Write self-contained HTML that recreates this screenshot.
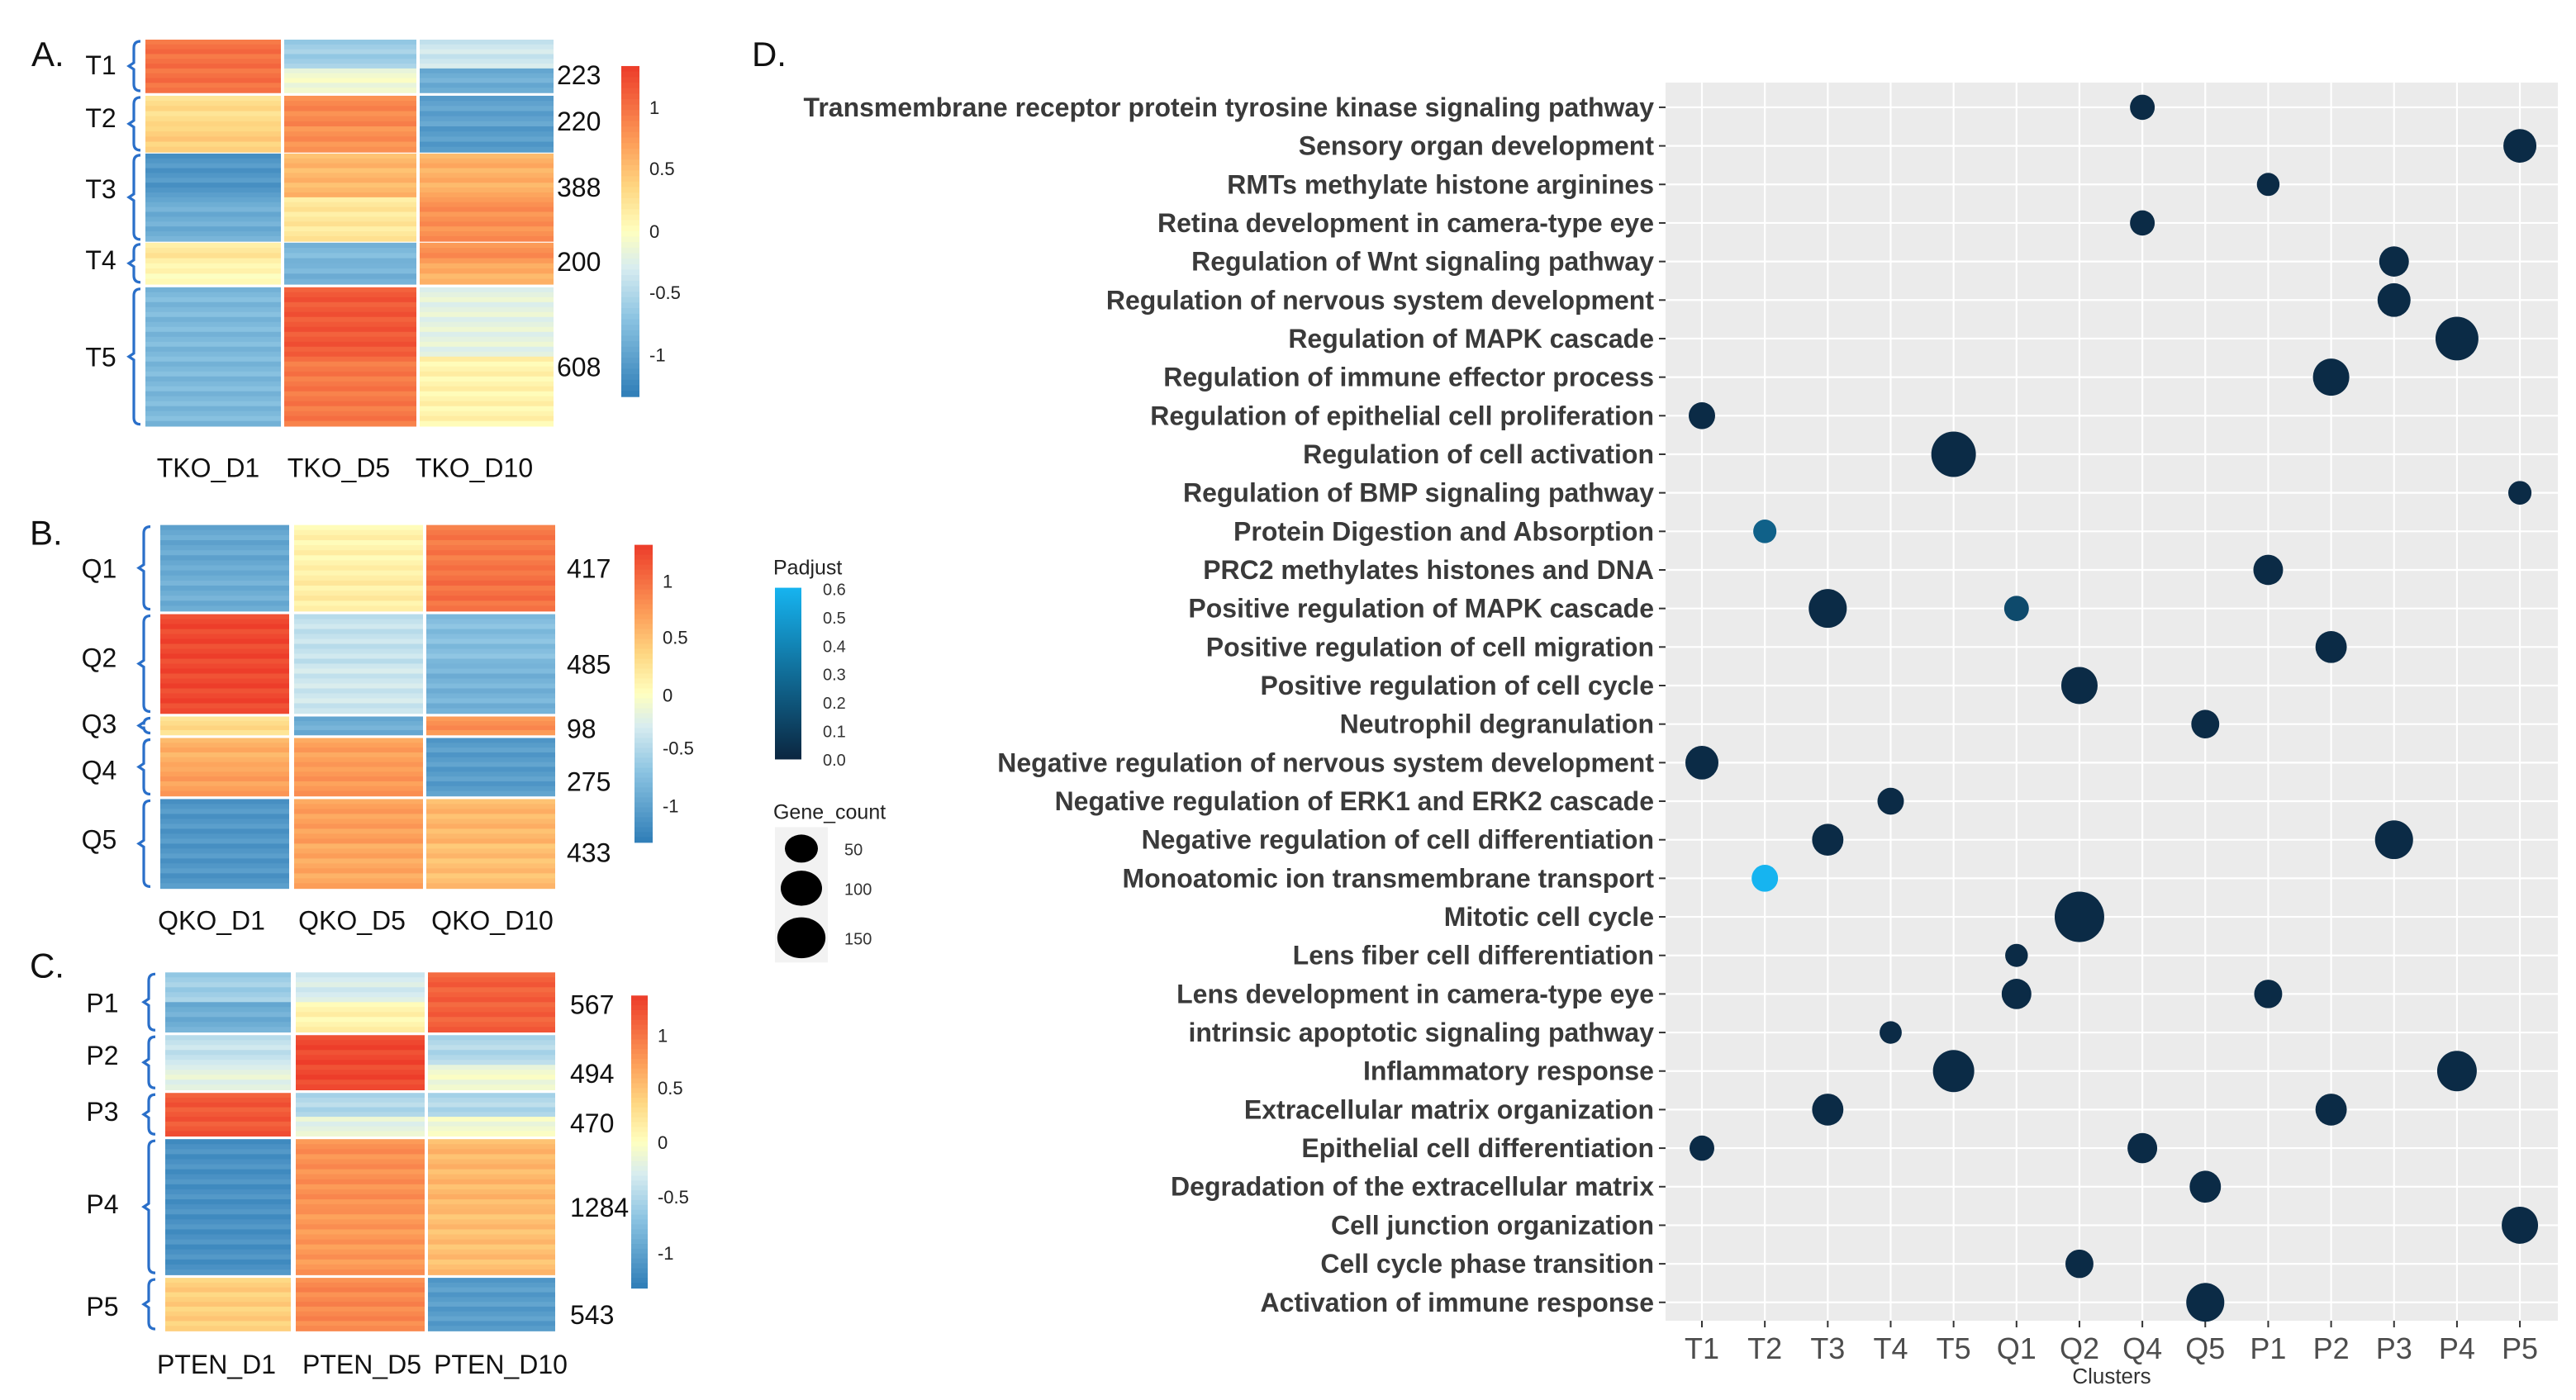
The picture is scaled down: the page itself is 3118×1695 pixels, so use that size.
<!DOCTYPE html>
<html><head><meta charset="utf-8"><style>
html,body{margin:0;padding:0;background:#fff}
svg{display:block}
text{font-family:"Liberation Sans",sans-serif}
</style></head><body>
<svg id="fig" width="3118" height="1695" viewBox="0 0 1559 848" preserveAspectRatio="none" xmlns="http://www.w3.org/2000/svg">
<g id="heatmaps"></g>
<g id="legend"></g>
<g id="dot"></g>
</svg>
<script>
// ---------- Heatmap data ----------
const tkoClusters=["T1","T2","T3","T4","T5"];
const tkoCounts=["223","220","388","200","608"];
const tkoSamples=["TKO_D1","TKO_D5","TKO_D10"];
const tkoValues=[[[1.0,1.0],[-0.6,-0.1],[-0.35,-0.9]],[[0.3,0.4],[0.85,0.8],[-1.0,-1.05]],[[-1.1,-0.9],[0.55,0.2],[0.6,0.8]],[[0.2,0.05],[-0.8,-0.85],[0.8,0.6]],[[-0.8,-0.8],[1.15,0.95],[-0.2,0.1]]];
const qkoClusters=["Q1","Q2","Q3","Q4","Q5"];
const qkoCounts=["417","485","98","275","433"];
const qkoSamples=["QKO_D1","QKO_D5","QKO_D10"];
const qkoValues=[[[-0.95,-0.9],[0.1,0.15],[0.95,1.0]],[[1.25,1.25],[-0.4,-0.35],[-0.75,-0.85]],[[0.3,0.3],[-0.9,-0.9],[0.8,0.8]],[[0.6,0.7],[0.7,0.75],[-1.05,-1.05]],[[-1.1,-1.1],[0.7,0.65],[0.55,0.5]]];
const ptenClusters=["P1","P2","P3","P4","P5"];
const ptenCounts=["567","494","470","1284","543"];
const ptenSamples=["PTEN_D1","PTEN_D5","PTEN_D10"];
const ptenValues=[[[-0.6,-0.9],[-0.3,0.1],[1.1,1.1]],[[-0.4,-0.2],[1.25,1.25],[-0.5,-0.1]],[[1.15,1.15],[-0.5,-0.2],[-0.5,-0.1]],[[-1.15,-1.15],[0.8,0.75],[0.55,0.5]],[[0.4,0.4],[0.85,0.85],[-1.05,-1.05]]];
const colorTicks=["1","0.5","0","-0.5","-1"];

// ---------- Dot plot data ----------
const terms=["Transmembrane receptor protein tyrosine kinase signaling pathway","Sensory organ development","RMTs methylate histone arginines","Retina development in camera-type eye","Regulation of Wnt signaling pathway","Regulation of nervous system development","Regulation of MAPK cascade","Regulation of immune effector process","Regulation of epithelial cell proliferation","Regulation of cell activation","Regulation of BMP signaling pathway","Protein Digestion and Absorption","PRC2 methylates histones and DNA","Positive regulation of MAPK cascade","Positive regulation of cell migration","Positive regulation of cell cycle","Neutrophil degranulation","Negative regulation of nervous system development","Negative regulation of ERK1 and ERK2 cascade","Negative regulation of cell differentiation","Monoatomic ion transmembrane transport","Mitotic cell cycle","Lens fiber cell differentiation","Lens development in camera-type eye","intrinsic apoptotic signaling pathway","Inflammatory response","Extracellular matrix organization","Epithelial cell differentiation","Degradation of the extracellular matrix","Cell junction organization","Cell cycle phase transition","Activation of immune response"];
const clusters=["T1","T2","T3","T4","T5","Q1","Q2","Q4","Q5","P1","P2","P3","P4","P5"];
const pointTerm=[0,1,2,3,4,5,6,7,8,9,10,11,12,13,13,14,15,16,17,18,19,19,20,21,22,23,23,24,25,25,26,26,27,27,28,29,30,31];
const pointCluster=["Q4","P5","P1","Q4","P3","P3","P4","P2","T1","T5","P5","T2","P1","T3","Q1","P2","Q2","Q5","T1","T4","T3","P3","T2","Q2","Q1","Q1","P1","T4","T5","P4","T3","P2","T1","Q4","Q5","P5","Q2","Q5"];
const pointCount=[11,50,3,11,33,50,111,69,18,123,5,5,33,79,11,41,69,25,50,18,41,79,18,161,3,33,25,1,100,89,41,41,11,33,41,69,25,79];
const pointPadj=[0.02,0.02,0.02,0.02,0.02,0.02,0.02,0.02,0.02,0.02,0.02,0.25,0.02,0.02,0.15,0.02,0.02,0.02,0.02,0.02,0.02,0.02,0.6,0.02,0.02,0.02,0.02,0.02,0.02,0.02,0.02,0.02,0.02,0.02,0.02,0.02,0.02,0.02];
const padjTicks=["0.6","0.5","0.4","0.3","0.2","0.1","0.0"];
const sizeTicks=[50,100,150];

const NS="http://www.w3.org/2000/svg";
function mk(tag,attrs,parent){const e=document.createElementNS(NS,tag);for(const k in attrs)e.setAttribute(k,attrs[k]);if(parent)parent.appendChild(e);return e;}
function txt(s,attrs,parent){const e=mk("text",attrs,parent);e.textContent=s;return e;}

const stops=[[-1.35,[44,123,182]],[-0.7,[140,196,226]],[-0.3,[215,236,240]],[0,[255,255,191]],[0.35,[254,215,130]],[0.7,[253,160,90]],[1.35,[236,56,40]]];
function heatColor(v){if(v<=stops[0][0])return rgb(stops[0][1]);for(let i=1;i<stops.length;i++){if(v<=stops[i][0]){const a=stops[i-1],b=stops[i],t=(v-a[0])/(b[0]-a[0]);return rgb(a[1].map((c,j)=>c+(b[1][j]-c)*t));}}return rgb(stops[stops.length-1][1]);}
function rgb(a){return "rgb("+a.map(x=>Math.round(x)).join(",")+")";}

const hm=document.getElementById("heatmaps");
function heatmap(cfg){
  const g=mk("g",{},hm);
  
  
  const pl=txt(cfg.letter,{x:cfg.letterX,y:cfg.letterY,"font-size":21,fill:"#111"},g);
  
  
  cfg.clusters.forEach((cl,ri)=>{
    const y0=cfg.rowY[ri][0],y1=cfg.rowY[ri][1],mid=(y0+y1)/2;
    cfg.cols.forEach((c,ci)=>{
      const vals=cfg.values[ri][ci];const h=y1-y0;const n=Math.max(2,Math.round(h/3));
      for(let s=0;s<n;s++){
        const sy=y0+h*s/n;const v=(s<n/2?vals[0]:vals[1])+((s%3)-1)*0.07;
        const r=mk("rect",{x:c[0],y:sy,width:c[1]-c[0],height:h/n+0.4,fill:heatColor(v)},g);
        
        
      }
    });
    const bx=cfg.bracketX;
    const br=mk("path",{d:`M${bx+4} ${y0+1} Q${bx} ${y0+1} ${bx} ${y0+5} L${bx} ${mid-2} L${bx-3} ${mid} L${bx} ${mid+2} L${bx} ${y1-5} Q${bx} ${y1-1} ${bx+4} ${y1-1}`,fill:"none",stroke:"#2a6fc9","stroke-width":1.6},g);
    
    
    const lb=txt(cl,{x:cfg.labelX,y:cfg.labelY[ri],"font-size":16,fill:"#111","text-anchor":"middle"},g);
    
    
    const ct=txt(cfg.counts[ri],{x:cfg.countX,y:cfg.countY[ri],"font-size":16,fill:"#111"},g);
    
    
  });
  cfg.samples.forEach((s,i)=>{
    const t=txt(s,{x:cfg.sampleX[i],y:cfg.sampleY,"font-size":16,fill:"#111","text-anchor":"middle"},g);
    
    
  });
  const cb=cfg.cbar;const n=60;
  for(let i=0;i<n;i++){const v=1.33-2.66*(i+0.5)/n;const r=mk("rect",{x:cb.x,y:cb.y0+(cb.y1-cb.y0)*i/n,width:cb.w,height:(cb.y1-cb.y0)/n+0.5,fill:heatColor(v)},g);
    
    }
  colorTicks.forEach((t,i)=>{const e=txt(t,{x:cb.x+cb.w+6,y:cb.ty[i]+4,"font-size":11,fill:"#222"},g);
    
    });
}
heatmap({name:"heatmap-tko",letter:"A.",letterX:19,letterY:40,clusters:tkoClusters,counts:tkoCounts,samples:tkoSamples,values:tkoValues,
 cols:[[88,170],[172,252],[254,335]],rowY:[[24,56],[58,92],[93,146],[147,172],[174,258]],bracketX:81,labelX:61,labelY:[45,77,120,163,222],countX:337,countY:[51,79,119,164,228],sampleX:[126,205,287],sampleY:289,
 cbar:{x:376,w:11,y0:40,y1:240,ty:[65,102,140,177,215]}});
heatmap({name:"heatmap-qko",letter:"B.",letterX:18,letterY:330,clusters:qkoClusters,counts:qkoCounts,samples:qkoSamples,values:qkoValues,
 cols:[[97,175],[178,256],[258,336]],rowY:[[318,370],[372,432],[434,445],[447,482],[484,538]],bracketX:87,labelX:60,labelY:[350,404,444,472,514],countX:343,countY:[350,408,447,479,522],sampleX:[128,213,298],sampleY:563,
 cbar:{x:384,w:11,y0:330,y1:510,ty:[352,386,421,453,488]}});
heatmap({name:"heatmap-pten",letter:"C.",letterX:18,letterY:592,clusters:ptenClusters,counts:ptenCounts,samples:ptenSamples,values:ptenValues,
 cols:[[100,176],[179,257],[259,336]],rowY:[[589,625],[627,660],[662,688],[690,772],[774,806]],bracketX:90,labelX:62,labelY:[613,645,679,735,797],countX:345,countY:[614,656,686,737,802],sampleX:[131,219,303],sampleY:832,
 cbar:{x:382,w:10,y0:603,y1:780,ty:[627,659,692,725,759]}});

// ---------- Dot plot ----------
const dot=document.getElementById("dot");
const PX0=1008,PX1=1548,PY0=50,PY1=800;
const xS=c=>1030+clusters.indexOf(c)*38.08;
const yS=i=>65+i*23.35;
const rS=c=>Math.sqrt(175+4.5*c)/2;
function padjColor(p){const a=[11,38,64],b=[22,180,240],t=Math.min(1,p/0.6);return rgb(a.map((v,j)=>v+(b[j]-v)*t));}
const pl=txt("D.",{x:455,y:40,"font-size":21,fill:"#111"},dot);


const bg=mk("rect",{x:PX0,y:PY0,width:PX1-PX0,height:PY1-PY0,fill:"#ebebeb"},dot);


clusters.forEach(c=>{
  const x=xS(c);
  const gl=mk("line",{x1:x,x2:x,y1:PY0,y2:PY1,stroke:"#fff","stroke-width":1.1},dot);
  
  
  const tk=mk("line",{x1:x,x2:x,y1:PY1,y2:PY1+4,stroke:"#333","stroke-width":1},dot);
  
  
  const tl=txt(c,{x:x,y:823,"font-size":18,fill:"#4d4d4d","text-anchor":"middle"},dot);
  
  
});
terms.forEach((t,i)=>{
  const y=yS(i);
  const gl=mk("line",{x1:PX0,x2:PX1,y1:y,y2:y,stroke:"#fff","stroke-width":1.1},dot);
  
  
  const tk=mk("line",{x1:PX0-4,x2:PX0,y1:y,y2:y,stroke:"#333","stroke-width":1},dot);
  
  
  const tl=txt(t,{x:1001,y:y+5.5,"font-size":16,"font-weight":"bold",fill:"#3a3a3a","text-anchor":"end"},dot);
  
  
});
pointTerm.forEach((ti,k)=>{
  const c=mk("ellipse",{cx:xS(pointCluster[k]),cy:yS(ti),rx:rS(pointCount[k]),ry:rS(pointCount[k])*1.02,fill:padjColor(pointPadj[k])},dot);
  
  
});
const xt=txt("Clusters",{x:1278,y:838,"font-size":13,fill:"#333","text-anchor":"middle"},dot);



// ---------- Legend ----------
const lg=document.getElementById("legend");
const t1=txt("Padjust",{x:468,y:348,"font-size":12.5,fill:"#222"},lg);


const defs=mk("defs",{},lg);
const grad=mk("linearGradient",{id:"pg",x1:0,y1:0,x2:0,y2:1},defs);
mk("stop",{offset:"0","stop-color":padjColor(0.6)},grad);
mk("stop",{offset:"1","stop-color":padjColor(0)},grad);
const cbar=mk("rect",{x:469,y:356,width:16,height:104,fill:"url(#pg)"},lg);


padjTicks.forEach((t,i)=>{
  const y=357+i*17.2;
  const e=txt(t,{x:498,y:y+3.5,"font-size":10,fill:"#333"},lg);
  
  
});
const t2=txt("Gene_count",{x:468,y:496,"font-size":12.5,fill:"#222"},lg);


const kb=mk("rect",{x:469,y:501,width:32,height:82,fill:"#f2f2f2"},lg);


const keyY=[514,538,568];
sizeTicks.forEach((s,i)=>{
  const c=mk("ellipse",{cx:485,cy:keyY[i],rx:rS(s),ry:rS(s)*0.85,fill:"#000"},lg);
  
  
  const e=txt(String(s),{x:511,y:keyY[i]+4,"font-size":10,fill:"#333"},lg);
  
  
});
</script>
</body></html>
